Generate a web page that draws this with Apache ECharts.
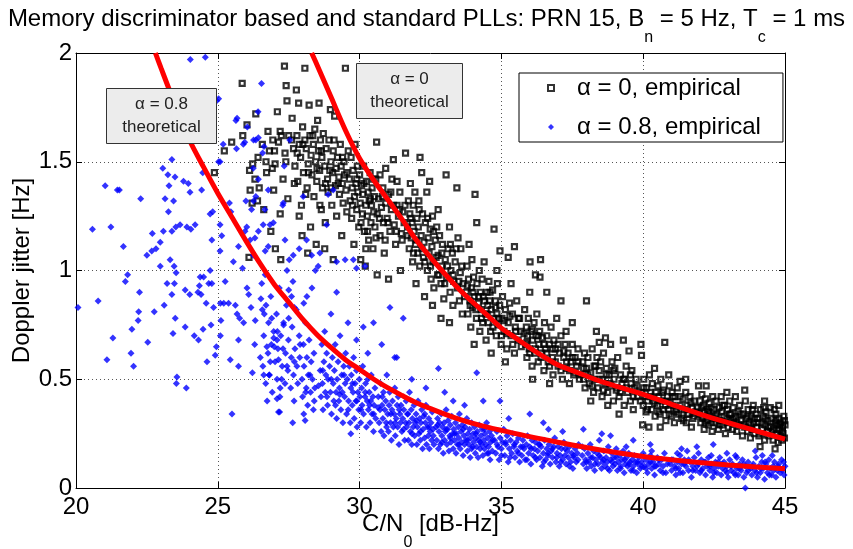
<!DOCTYPE html>
<html><head><meta charset="utf-8">
<script src="https://cdn.jsdelivr.net/npm/echarts@6/dist/echarts.min.js"></script>
<style>html,body{margin:0;padding:0;background:#fff}#c{width:853px;height:549px}</style>
</head><body><div id="c"></div>
<script>
const FONT = '"Liberation Sans", Arial, sans-serif';
const xTicks = [20, 25, 30, 35, 40, 45];
const yTicks = [0, 0.5, 1, 1.5, 2];
const legendNames = ['α = 0, empirical', 'α = 0.8, empirical'];
const boxLabels = [['α = 0.8', 'theoretical'], ['α = 0', 'theoretical']];

// alpha = 0, empirical (black squares)
const alpha0Empirical = [
[24.88,1.45],[25.23,1.55],[25.49,1.59],[25.86,1.86],[25.88,1.62],[26.03,1.67],[26.1,1.06],[26.12,1.46],[26.14,1.37],[26.21,1.31],[26.23,1.49],[26.31,1.42],[26.34,1.72],[26.4,1.32],[26.42,1.52],[26.46,1.38],[26.57,1.58],[26.62,1.28],[26.7,1.5],[26.72,1.45],[26.77,1.64],[26.82,1.55],[26.87,1.18],[26.92,1.47],[26.94,1.6],[26.97,1.37],[27.02,1.49],[27.03,1.1],[27.1,1.73],[27.14,1.59],[27.2,1.26],[27.22,1.05],[27.24,1.62],[27.3,1.42],[27.35,1.94],[27.37,1.54],[27.41,1.85],[27.44,1.78],[27.47,1.33],[27.5,1.62],
[27.62,1.7],[27.67,1.56],[27.72,1.48],[27.77,1.83],[27.79,1.62],[27.82,1.41],[27.85,1.77],[27.87,1.58],[27.87,1.25],[27.92,1.52],[27.95,1.3],[27.97,1.16],[27.99,1.66],[28.02,1.45],[28.07,1.93],[28.07,1.6],[28.12,1.56],[28.15,1.38],[28.17,1.08],[28.19,1.49],[28.22,1.76],[28.25,1.62],[28.27,1.2],[28.29,1.53],[28.32,1.44],[28.37,1.58],[28.39,1.34],[28.42,1.65],[28.45,1.5],[28.47,1.12],[28.49,1.41],[28.52,1.69],[28.55,1.55],[28.57,1.77],[28.59,1.46],[28.62,1.6],[28.65,1.28],[28.67,1.52],[28.69,1.38],[28.72,1.63],[28.77,1.48],[28.77,1.1],[28.79,1.22],[28.82,1.56],[28.87,1.42],[28.89,1.36],[28.92,1.6],[28.97,1.74],[28.99,1.5],[29.02,1.3],[29.05,1.45],[29.07,1.55],[29.07,1.05],[29.12,1.71],[29.15,1.39],[29.17,1.47],[29.19,1.25],[29.22,1.52],[29.27,1.43],[29.29,1.35],[29.32,1.58],[29.35,1.48],[29.37,1.16],[29.39,1.4],[29.42,1.31],[29.45,1.5],[29.47,1.44],[29.5,1.93],[29.52,1.37],[29.55,1.27],
[29.64,1.42],[29.67,1.32],[29.7,1.52],[29.72,1.24],[29.74,1.38],[29.77,1.46],[29.8,1.12],[29.82,1.34],[29.84,1.58],[29.87,1.4],[29.9,1.28],[29.92,1.48],[29.94,1.36],[29.97,1.2],[30.0,1.44],[30.02,1.31],[30.04,1.05],[30.07,1.39],[30.1,1.26],[30.12,1.35],[30.14,1.48],[30.17,1.18],[30.2,1.02],[30.22,1.3],[30.22,1.1],[30.24,1.41],[30.27,1.25],[30.3,1.36],[30.32,1.14],[30.34,1.32],[30.37,1.45],[30.4,1.22],[30.42,1.3],[30.44,1.38],[30.47,1.1],[30.5,1.27],[30.52,1.34],[30.54,1.2],[30.57,1.42],[30.6,1.59],[30.62,1.26],[30.62,0.98],[30.67,1.33],[30.72,1.16],[30.72,1.44],[30.77,1.29],[30.82,1.38],[30.84,1.22],[30.87,1.08],[30.92,1.31],[30.92,1.47],[30.97,1.24],[31.02,1.35],[31.02,0.96],[31.07,1.18],[31.12,1.28],[31.14,1.42],[31.19,1.51],[31.22,1.21],[31.27,1.12],[31.32,1.3],[31.32,1.41],[31.37,1.25],[31.42,1.36],[31.44,1.0],[31.47,1.17],[31.52,1.27],[31.57,1.22],[31.62,1.54],
[31.69,1.2],[31.72,1.32],[31.75,1.1],[31.77,1.26],[31.79,1.4],[31.82,1.15],[31.85,1.22],[31.87,1.04],[31.89,1.3],[31.92,1.18],[31.95,1.36],[31.97,1.12],[31.99,0.94],[32.02,1.24],[32.05,1.08],[32.07,1.2],[32.09,1.32],[32.12,1.02],[32.13,1.52],[32.17,1.16],[32.19,1.45],[32.22,1.26],[32.25,1.06],[32.27,1.13],[32.29,0.88],[32.32,1.22],[32.37,1.36],[32.39,1.0],[32.42,1.15],[32.45,1.08],[32.47,1.41],[32.49,1.19],[32.52,0.96],[32.55,1.11],[32.57,1.25],[32.59,1.04],[32.62,0.92],[32.57,0.84],[32.67,1.14],[32.72,1.2],[32.75,0.98],[32.77,1.07],[32.77,1.28],[32.82,1.16],[32.87,0.94],[32.87,0.78],[32.89,1.02],[32.92,1.12],[32.97,0.87],[33.02,1.05],[33.05,1.44],[33.07,0.97],[33.12,1.1],[33.17,1.2],[33.17,0.76],[33.19,0.9],[33.22,1.0],[33.27,1.08],[33.29,0.84],[33.32,0.95],[33.37,1.04],[33.43,1.38],[33.45,0.92],[33.47,1.15],[33.52,0.86],[33.55,0.99],[33.57,1.1],[33.62,0.8],[33.65,0.94],
[33.76,0.9],[33.79,1.02],[33.82,0.8],[33.84,0.96],[33.86,1.12],[33.89,0.86],[33.92,0.74],[33.94,0.92],[33.96,1.05],[33.99,0.83],[34.02,0.97],[34.04,0.88],[34.07,1.35],[34.12,0.78],[34.14,0.94],[34.13,1.22],[34.19,0.85],[34.22,1.0],[34.24,0.72],[34.26,0.9],[34.29,0.82],[34.32,0.96],[34.34,0.76],[34.36,0.88],[34.39,1.04],[34.44,0.8],[34.46,0.68],[34.49,0.9],[34.52,0.84],[34.54,0.76],[34.56,0.95],[34.59,0.86],[34.62,0.72],[34.64,0.82],[34.69,0.91],[34.74,1.19],[34.74,0.78],[34.79,0.86],[34.82,0.7],[34.84,0.8],[34.86,0.94],[34.89,0.75],[34.94,0.84],[34.95,1.09],[34.99,0.66],[35.02,0.78],[35.04,0.88],[35.09,0.72],[35.14,0.82],[35.19,0.64],[35.24,1.06],[35.24,0.76],[35.29,0.85],[35.34,0.7],[35.39,0.8],[35.46,1.11],[35.46,0.62],[35.49,0.74],[35.54,0.86],[35.59,0.68],[35.64,0.78],[35.69,0.72],[34.04,0.66],[34.64,0.62],[35.14,0.58],[34.84,1.0],[35.34,0.94],
[35.82,0.82],[35.85,0.66],[35.88,0.74],[35.9,0.6],[35.92,0.7],[35.95,0.78],[35.98,0.64],[36.0,0.9],[36.01,1.04],[36.05,0.72],[36.08,0.56],[36.1,0.68],[36.15,0.76],[36.18,0.62],[36.2,0.98],[36.22,0.7],[36.25,0.8],[36.3,0.58],[36.32,0.66],[36.35,0.72],[36.36,0.97],[36.38,1.05],[36.42,0.62],[36.45,0.69],[36.5,0.54],[36.52,0.76],[36.55,0.64],[36.6,0.7],[36.6,0.9],[36.65,0.58],[36.7,0.66],[36.75,0.74],[36.8,0.6],[36.82,0.52],[36.85,0.68],[36.9,0.64],[36.95,0.78],[37.0,0.56],[37.05,0.62],[37.1,0.7],[37.15,0.5],[37.2,0.6],[37.25,0.66],[37.28,0.72],[37.3,0.55],[37.35,0.62],[37.4,0.48],[37.45,0.58],[37.5,0.66],[37.55,0.52],[37.6,0.6],[37.65,0.56],[37.7,0.64],[37.75,0.5],[36.1,0.5],[36.7,0.48],[37.1,0.86],[37.5,0.76],
[37.87,0.58],[37.9,0.5],[37.93,0.62],[37.95,0.46],[38.0,0.55],[38.0,0.86],[38.05,0.6],[38.1,0.48],[38.15,0.53],[38.2,0.64],[38.25,0.44],[38.27,0.56],[38.3,0.5],[38.35,0.72],[38.37,0.6],[38.4,0.46],[38.45,0.54],[38.5,0.58],[38.55,0.42],[38.57,0.5],[38.6,0.62],[38.65,0.48],[38.67,0.69],[38.7,0.55],[38.75,0.44],[38.8,0.52],[38.85,0.66],[38.85,0.47],[38.9,0.58],[38.95,0.4],[38.97,0.5],[39.0,0.55],[39.05,0.45],[39.1,0.6],[39.15,0.42],[39.2,0.52],[39.25,0.48],[39.3,0.68],[39.33,0.38],[39.35,0.5],[39.4,0.56],[39.45,0.44],[39.5,0.63],[39.55,0.4],[39.57,0.48],[39.6,0.54],[39.65,0.36],[39.7,0.46],[39.75,0.5],[39.8,0.42],[38.15,0.4],[38.75,0.38],[39.15,0.34],[38.45,0.67],
[39.92,0.66],[39.94,0.61],[39.95,0.44],[39.98,0.29],[40.0,0.38],[40.02,0.5],[40.05,0.42],[40.1,0.35],[40.12,0.46],[40.15,0.4],[40.2,0.28],[40.22,0.52],[40.25,0.44],[40.3,0.36],[40.32,0.48],[40.35,0.4],[40.4,0.55],[40.42,0.33],[40.45,0.44],[40.5,0.38],[40.52,0.47],[40.55,0.42],[40.6,0.34],[40.62,0.5],[40.65,0.4],[40.7,0.36],[40.72,0.45],[40.76,0.67],[40.78,0.38],[40.8,0.31],[40.85,0.42],[40.9,0.36],[40.92,0.47],[40.95,0.39],[41.0,0.33],[41.02,0.44],[41.05,0.38],[41.1,0.3],[41.12,0.42],[41.15,0.36],[41.2,0.46],[41.25,0.34],[41.3,0.49],[41.3,0.38],[41.35,0.32],[41.4,0.41],[41.45,0.36],[41.5,0.44],[41.52,0.3],[41.55,0.38],[41.6,0.34],[41.65,0.42],[41.7,0.28],[41.72,0.37],[41.75,0.32],[41.8,0.4],[41.85,0.35],[40.9,0.52],[41.5,0.5],[40.6,0.28],
[41.95,0.47],[41.97,0.34],[42.0,0.4],[42.03,0.3],[42.05,0.37],[42.07,0.43],[42.1,0.32],[42.13,0.38],[42.15,0.27],[42.17,0.35],[42.2,0.41],[42.22,0.47],[42.25,0.31],[42.27,0.36],[42.3,0.29],[42.33,0.39],[42.35,0.33],[42.4,0.37],[42.43,0.26],[42.45,0.42],[42.47,0.32],[42.5,0.36],[42.55,0.3],[42.57,0.4],[42.6,0.34],[42.65,0.27],[42.67,0.37],[42.7,0.31],[42.75,0.42],[42.77,0.35],[42.8,0.29],[42.85,0.33],[42.87,0.38],[42.9,0.25],[42.95,0.32],[42.97,0.36],[43.0,0.28],[43.05,0.4],[43.07,0.31],[43.1,0.34],[43.15,0.27],[43.17,0.37],[43.2,0.3],[43.25,0.42],[43.27,0.33],[43.3,0.26],[43.35,0.35],[43.37,0.29],[43.4,0.38],[43.45,0.31],[43.5,0.24],[43.53,0.34],[43.58,0.28],[43.6,0.4],[43.63,0.32],[43.68,0.26],[43.7,0.36],[43.73,0.3],[43.78,0.23],[43.8,0.33],[43.83,0.27],[43.88,0.38],[43.9,0.3],[43.93,0.25],[43.98,0.34],[44.0,0.28],[44.03,0.32],[44.08,0.24],[44.12,0.19],[44.13,0.36],[44.18,0.3],[44.2,0.27],[44.23,0.33],[44.28,0.22],[44.3,0.29],[44.33,0.35],[44.38,0.26],[44.4,0.31],[44.43,0.24],[44.48,0.37],[44.5,0.28],[44.53,0.32],[44.58,0.22],[44.6,0.27],[44.65,0.18],[44.66,0.3],[44.68,0.34],[44.7,0.25],[44.73,0.29],[44.76,0.21],[44.78,0.32],[44.8,0.27],[44.83,0.24],[44.86,0.3],[44.88,0.22],[44.9,0.28],[44.93,0.25],[44.96,0.33],[44.98,0.23],[45.0,0.29],[42.95,0.44],[43.58,0.45],[44.28,0.4],[44.78,0.38]
];
// alpha = 0, empirical, densest part of the cloud
const alpha0EmpiricalDense = [
[29.6,1.55],[29.75,1.3],[29.9,1.42],[30.05,1.22],[30.15,1.4],[30.28,1.18],[30.38,1.33],[30.48,1.42],[30.58,1.15],[30.7,1.24],[30.8,1.34],[30.9,1.14],[31.0,1.22],[31.1,1.36],[31.2,1.3],[31.3,1.18],[31.4,1.28],[31.5,1.14],[31.6,1.3],[31.7,1.16],[31.8,1.24],[31.9,1.08],[32.0,1.14],[32.1,1.28],[32.2,1.1],[32.3,1.04],[32.4,1.24],[32.5,1.02],[32.6,1.18],[32.7,1.06],[32.8,0.98],[32.9,1.08],[33.0,0.94],[33.1,1.02],[33.2,1.12],[33.3,0.98],[33.4,1.1],[33.5,0.95],[33.6,1.02],[33.7,0.88],
[33.8,0.93],[33.9,0.84],[34.0,0.9],[34.1,0.82],[34.2,0.88],[34.3,0.78],[34.4,0.86],[34.5,0.8],[34.6,0.9],[34.7,0.74],[34.8,0.83],[34.9,0.78],[35.0,0.7],[35.1,0.77],[35.2,0.71],[35.3,0.79],[35.4,0.66],[35.5,0.72],[35.6,0.78],[35.7,0.65],[35.8,0.71],[35.9,0.67],[36.0,0.62],[36.1,0.73],[36.2,0.64],[36.3,0.7],[36.4,0.6],[36.5,0.66],[36.6,0.62],[36.7,0.56],[36.8,0.64],[36.9,0.58],[37.0,0.66],[37.1,0.54],[37.2,0.63],[37.3,0.58],[37.4,0.54],[37.5,0.6],[37.6,0.53],[37.7,0.58],[37.8,0.52],[37.9,0.55],
[38.05,0.52],[38.2,0.47],[38.32,0.56],[38.45,0.5],[38.6,0.45],[38.7,0.52],[38.82,0.48],[38.95,0.54],[39.08,0.46],[39.2,0.44],[39.3,0.5],[39.42,0.46],[39.55,0.52],[39.65,0.42],[39.78,0.47],[39.9,0.4],[40.02,0.46],[40.15,0.36],[40.28,0.42],[40.4,0.39],[40.55,0.35],[40.68,0.44],[40.8,0.4],[40.92,0.34],[41.05,0.42],[41.18,0.35],[41.3,0.42],[41.42,0.31],[41.55,0.34],[41.68,0.39],[41.8,0.33],[41.92,0.37],[42.05,0.33],[42.18,0.3],[42.3,0.35],[42.42,0.3],[42.55,0.33],[42.68,0.29],[42.8,0.38],[42.92,0.3],[43.05,0.34],[43.18,0.32],[43.3,0.3],[43.42,0.34],[43.55,0.29],[43.68,0.33],[43.8,0.29],[43.92,0.32],[44.05,0.3],[44.18,0.25],[44.3,0.32],[44.42,0.28],[44.55,0.26],[44.68,0.31],[44.8,0.29],[44.9,0.26],[44.98,0.31],[44.62,0.36],[44.25,0.37],[43.85,0.36],
[27.0,1.55],[27.2,1.64],[27.4,1.5],[27.6,1.6],[27.8,1.54],[28.0,1.58],[28.2,1.45],[28.35,1.62],[28.5,1.47],[28.65,1.55],[28.8,1.4],[28.95,1.46],[29.1,1.6],[29.25,1.4],[29.4,1.52],[29.55,1.45],[28.1,1.35],[28.6,1.3],[29.0,1.38],[27.7,1.4]
];

// alpha = 0.8, empirical (blue points)
const alpha08Empirical = [
[20.07,0.83],[20.58,1.19],[20.78,0.86],[21.03,1.39],[21.09,0.59],[21.23,1.2],[21.3,0.69],[21.46,1.37],[21.53,1.37],[21.67,1.11],[21.74,0.95],[21.82,0.98],[21.94,0.62],[21.97,0.73],[22.03,0.56],[22.19,0.77],[22.21,0.81],[22.24,0.9],[22.28,1.33],[22.5,1.07],[22.53,0.67],[22.67,1.09],[22.69,1.17],[22.76,0.81],[22.82,1.1],[22.97,1.13],[22.97,1.02],[23.06,1.47],[23.08,1.18],[23.11,0.84],[23.14,1.33],[23.21,0.94],[23.24,1.44],[23.26,1.27],[23.28,1.39],[23.32,1.05],[23.38,1.51],[23.38,0.89],[23.38,1.18],[23.42,0.71],[23.44,1.32],[23.46,1.02],[23.47,0.94],[23.49,1.43],[23.5,0.78],[23.52,1.2],[23.53,0.99],[23.54,0.48],[23.56,0.51],[23.67,1.21],[23.79,1.41],[23.85,0.74],[23.85,0.91],[23.89,0.46],[23.91,1.2],[23.96,1.4],[24.01,0.89],[24.02,1.36],[24.03,1.97],[24.05,1.19],[24.17,0.7],[24.2,1.21],[24.3,0.9],[24.32,0.68],[24.35,0.93],[24.38,0.97],[24.41,0.89],[24.43,1.37],[24.47,1.45],[24.48,0.73],[24.5,0.97],[24.56,1.98],[24.59,0.85],[24.62,0.58],[24.68,0.94],[24.73,1.26],[24.73,1.0],[24.76,0.75],[24.79,0.94],[24.79,1.14],[24.82,1.27],[24.85,0.83],[24.91,0.61],[24.95,0.65],[24.96,1.78],[25.03,1.79],[25.03,1.5],[25.08,1.5],[25.08,1.21],[25.08,1.09],[25.09,0.7],[25.09,0.85],[25.11,0.77],[25.14,1.16],[25.19,1.58],[25.21,0.85],[25.26,0.95],[25.38,0.85],[25.41,1.31],[25.44,0.59],[25.46,1.27],[25.5,0.34],[25.55,1.04],[25.62,0.84],[25.64,1.69],[25.66,1.56],[25.68,1.7],[25.68,0.8],[25.73,0.56],[25.73,0.68],[25.73,1.11],[25.77,0.78],[25.87,1.01],[25.9,1.58],[25.91,0.76],[25.95,1.59],[25.96,1.18],[25.99,1.32],[26.02,1.2],[26.03,0.92],[26.04,1.66],[26.09,0.89],[26.14,1.14],[26.17,0.83],[26.19,1.28],[26.22,0.53],[26.25,1.47],[26.25,1.07],[26.26,1.32],[26.26,1.6],[26.31,1.15],[26.32,0.77],[26.34,1.34],[26.34,1.6],[26.42,1.73],[26.43,1.18],[26.43,1.61],[26.43,1.42],[26.52,0.87],[26.54,1.86],[26.55,0.94],[26.58,1.54],[26.6,1.21],[26.62,0.52],[26.63,1.57],[26.64,0.8],[26.66,1.28],[26.67,1.09],[26.73,0.65],[26.78,1.37],[26.78,1.11],[26.81,0.52],[26.84,1.21],[26.96,1.22],[26.97,0.69],[26.99,0.65],[27.09,0.68],[27.09,0.41],[27.14,0.59],[27.18,0.35],[27.2,0.46],[27.31,1.31],[27.32,0.75],[27.37,1.14],[27.44,0.56],[27.5,0.91],[27.65,0.95],[27.66,1.07],[27.7,0.83],[28.01,1.34],[28.03,0.85],[28.03,0.34],[28.08,0.31],[28.13,1.14],[28.31,1.07],[28.54,1.02],[28.6,1.08],[28.84,1.21],[28.89,1.35],[29.07,1.37],[29.19,1.04],[29.78,1.05],[29.89,1.01],[30.19,1.02],
[26.57,0.82],[26.59,0.56],[26.62,0.7],[26.67,0.98],[26.69,0.48],[26.77,0.62],[26.79,0.76],[26.82,0.52],[26.87,0.88],[26.89,0.66],[26.92,0.44],[26.97,0.72],[27.02,0.58],[27.07,0.8],[27.09,0.5],[27.12,0.64],[27.17,0.92],[27.19,0.42],[27.22,0.7],[27.27,0.56],[27.29,1.3],[27.32,0.76],[27.37,0.48],[27.39,0.62],[27.42,0.84],[27.47,0.54],[27.49,0.68],[27.52,1.05],[27.57,0.46],[27.59,0.6],[27.62,0.74],[27.67,0.52],[27.69,0.4],[27.72,0.64],[27.77,0.82],[27.79,0.56],[27.82,0.48],[27.87,0.7],[27.89,0.6],[27.97,0.5],[27.99,0.42],[28.02,0.66],[28.04,0.56],[28.09,0.76],[28.12,0.46],[28.14,0.6],[28.17,0.38],[28.19,0.52],[28.22,0.68],[28.27,0.44],[28.29,0.58],[28.32,0.92],[28.34,0.5],[28.37,0.36],[28.39,0.62],[28.42,0.46],[28.44,1.0],[27.87,1.1],[27.44,1.0],[27.14,0.35],[27.64,0.3],[28.14,0.88],[26.74,0.4],[27.34,1.48],[27.54,1.6],
[28.61,0.54],[28.64,0.42],[28.67,0.66],[28.69,0.48],[28.71,0.36],[28.74,0.58],[28.77,0.72],[28.79,0.44],[28.81,0.52],[28.84,0.62],[28.87,0.38],[28.89,0.5],[28.94,0.56],[28.97,0.44],[28.99,0.8],[29.01,0.34],[29.04,0.6],[29.07,0.48],[29.09,0.4],[29.11,0.54],[29.14,0.66],[29.17,0.44],[29.19,0.32],[29.21,0.5],[29.24,0.58],[29.27,0.4],[29.29,0.46],[29.31,0.7],[29.34,0.36],[29.37,0.52],[29.39,0.44],[29.41,0.3],[29.44,0.56],[29.47,0.42],[29.49,0.48],[29.51,0.62],[29.54,0.34],[29.57,0.5],[29.61,0.4],[29.64,0.56],[29.67,0.3],[29.69,0.46],[29.71,0.52],[29.74,0.38],[29.77,0.44],[29.79,0.6],[29.81,0.32],[29.84,0.48],[29.87,0.4],[29.89,0.54],[29.91,0.28],[29.94,0.44],[29.97,0.36],[29.99,0.5],[30.01,0.42],[30.04,0.3],[30.07,0.46],[30.09,0.38],[30.11,0.56],[30.14,0.34],[30.19,0.42],[30.21,0.48],[30.24,0.28],[30.27,0.4],[30.29,0.5],[30.31,0.36],[30.34,0.44],[30.37,0.3],[30.39,0.4],[30.41,0.52],[30.44,0.34],[30.47,0.42],[30.49,0.26],[30.51,0.38],[30.54,0.46],[30.57,0.32],[29.19,0.9],[29.59,0.76],[29.89,0.68],[29.49,1.05],[30.29,0.62],[29.69,0.25],
[30.13,0.74],[30.49,0.76],[30.78,0.66],[31.07,0.83],[31.54,0.78],[31.31,0.6],[32.78,0.55],[34.13,0.53],[34.36,0.4],[34.95,0.4],[36.0,0.34],[36.48,0.3],[37.89,0.27],
[30.66,0.42],[30.69,0.3],[30.72,0.36],[30.74,0.48],[30.76,0.26],[30.79,0.38],[30.82,0.32],[30.84,0.44],[30.86,0.24],[30.89,0.36],[30.92,0.4],[30.94,0.3],[30.96,0.52],[30.99,0.34],[31.02,0.26],[31.04,0.38],[31.06,0.44],[31.09,0.3],[31.12,0.22],[31.14,0.36],[31.16,0.4],[31.19,0.28],[31.22,0.34],[31.24,0.46],[31.26,0.24],[31.29,0.32],[31.32,0.38],[31.34,0.28],[31.36,0.42],[31.39,0.2],[31.42,0.34],[31.44,0.3],[31.46,0.38],[31.49,0.26],[31.52,0.32],[31.56,0.36],[31.59,0.22],[31.62,0.3],[31.64,0.4],[31.66,0.28],[31.69,0.34],[31.72,0.22],[31.74,0.3],[31.76,0.44],[31.79,0.26],[31.82,0.36],[31.84,0.2],[31.86,0.32],[31.89,0.28],[31.92,0.38],[31.94,0.24],[31.96,0.3],[31.99,0.34],[32.02,0.2],[32.04,0.28],[32.06,0.4],[32.09,0.25],[32.12,0.32],[32.14,0.22],[32.16,0.3],[32.19,0.36],[32.22,0.18],[32.24,0.27],[32.26,0.33],[32.29,0.23],[32.32,0.3],[32.34,0.38],[32.36,0.2],[32.39,0.28],[32.42,0.24],[32.44,0.32],[32.46,0.18],[32.49,0.26],[32.52,0.3],[32.54,0.22],[32.56,0.35],[32.59,0.27],[32.62,0.2],[31.24,0.6],[31.84,0.5],[32.34,0.46],
[32.7,0.28],[32.72,0.22],[32.75,0.32],[32.78,0.18],[32.8,0.26],[32.82,0.3],[32.85,0.2],[32.88,0.34],[32.9,0.24],[32.92,0.28],[32.95,0.16],[32.98,0.3],[33.0,0.22],[33.02,0.26],[33.05,0.36],[33.08,0.2],[33.1,0.27],[33.12,0.31],[33.15,0.17],[33.18,0.24],[33.2,0.29],[33.22,0.21],[33.25,0.33],[33.28,0.25],[33.3,0.18],[33.32,0.27],[33.35,0.22],[33.38,0.3],[33.4,0.16],[33.42,0.25],[33.45,0.2],[33.48,0.28],[33.5,0.23],[33.52,0.34],[33.55,0.18],[33.58,0.26],[33.6,0.21],[33.62,0.29],[33.65,0.15],[33.68,0.24],[33.7,0.2],[33.72,0.28],[33.75,0.22],[33.78,0.32],[33.8,0.17],[33.82,0.25],[33.85,0.2],[33.88,0.27],[33.9,0.14],[33.92,0.23],[33.95,0.3],[33.98,0.19],[34.0,0.25],[34.02,0.21],[34.05,0.28],[34.08,0.16],[34.1,0.23],[34.12,0.19],[34.15,0.26],[34.18,0.14],[34.2,0.22],[34.22,0.29],[34.25,0.18],[34.28,0.24],[34.3,0.2],[34.32,0.27],[34.35,0.15],[34.38,0.22],[34.4,0.18],[34.42,0.25],[34.45,0.2],[34.48,0.3],[34.5,0.16],[34.52,0.23],[34.55,0.19],[34.58,0.26],[34.6,0.13],[34.62,0.21],[34.65,0.24],[34.68,0.17],[33.3,0.4],[33.7,0.38],[33.0,0.44],
[34.76,0.22],[34.8,0.16],[34.84,0.26],[34.88,0.19],[34.92,0.13],[34.96,0.23],[35.0,0.18],[35.04,0.21],[35.08,0.27],[35.12,0.15],[35.16,0.2],[35.2,0.24],[35.24,0.12],[35.28,0.18],[35.32,0.22],[35.36,0.16],[35.4,0.25],[35.44,0.19],[35.48,0.14],[35.52,0.21],[35.56,0.17],[35.6,0.23],[35.64,0.12],[35.68,0.19],[35.72,0.15],[35.76,0.22],[35.8,0.18],[35.84,0.13],[35.88,0.2],[35.92,0.24],[35.96,0.16],[36.0,0.19],[36.04,0.11],[36.08,0.22],[36.12,0.15],[36.16,0.18],[36.2,0.21],[36.24,0.13],[36.28,0.17],[36.32,0.2],[36.36,0.14],[36.4,0.19],[36.44,0.1],[36.48,0.16],[36.52,0.22],[36.56,0.13],[36.6,0.18],[36.64,0.15],[36.68,0.2],[36.72,0.11],[36.76,0.17],[36.8,0.14],[36.84,0.19],[36.88,0.23],[36.92,0.12],[36.96,0.16],[37.0,0.19],[37.04,0.1],[37.08,0.15],[37.12,0.18],[37.16,0.13],[37.2,0.21],[37.24,0.15],[37.28,0.11],[37.32,0.17],[37.36,0.14],[37.4,0.19],[37.44,0.12],[37.48,0.16],[37.52,0.09],[37.56,0.14],[37.6,0.18],[37.64,0.12],[37.68,0.16],[37.72,0.2],[36.66,0.27],[35.26,0.32],[37.16,0.26],
[37.85,0.15],[37.89,0.11],[37.93,0.18],[37.97,0.13],[38.01,0.09],[38.05,0.16],[38.09,0.12],[38.13,0.2],[38.17,0.1],[38.21,0.14],[38.25,0.17],[38.29,0.08],[38.33,0.13],[38.37,0.16],[38.41,0.11],[38.45,0.22],[38.49,0.14],[38.53,0.09],[38.57,0.12],[38.61,0.17],[38.65,0.1],[38.69,0.14],[38.73,0.12],[38.77,0.19],[38.81,0.08],[38.85,0.13],[38.89,0.16],[38.93,0.1],[38.97,0.14],[39.01,0.11],[39.05,0.18],[39.09,0.08],[39.13,0.12],[39.17,0.15],[39.21,0.1],[39.25,0.13],[39.29,0.17],[39.33,0.07],[39.37,0.11],[39.41,0.14],[39.45,0.1],[39.49,0.16],[39.53,0.12],[39.57,0.08],[39.61,0.13],[39.65,0.1],[39.69,0.15],[39.73,0.12],[39.77,0.07],[39.81,0.11],[39.85,0.14],[39.9,0.09],[39.95,0.12],[40.0,0.16],[40.05,0.1],[40.1,0.13],[40.15,0.07],[40.2,0.11],[40.25,0.15],[40.3,0.09],[40.35,0.12],[40.4,0.06],[40.45,0.1],[40.5,0.14],[40.55,0.11],[40.6,0.08],[40.65,0.13],[40.7,0.1],[40.75,0.16],[40.8,0.07],[38.85,0.24],[39.65,0.22],[40.25,0.2],[38.54,0.25],
[40.95,0.11],[41.0,0.08],[41.05,0.13],[41.1,0.1],[41.15,0.06],[41.2,0.12],[41.25,0.09],[41.3,0.15],[41.35,0.11],[41.4,0.07],[41.45,0.13],[41.5,0.1],[41.55,0.17],[41.6,0.08],[41.65,0.12],[41.7,0.05],[41.75,0.1],[41.8,0.14],[41.85,0.08],[41.89,0.19],[41.95,0.11],[42.0,0.07],[42.05,0.13],[42.1,0.09],[42.15,0.12],[42.2,0.06],[42.25,0.1],[42.3,0.14],[42.35,0.08],[42.4,0.11],[42.45,0.05],[42.47,0.2],[42.5,0.09],[42.55,0.12],[42.6,0.07],[42.65,0.1],[42.7,0.14],[42.75,0.06],[42.8,0.09],[42.85,0.12],[42.9,0.08],[42.95,0.1],[43.0,0.05],[43.05,0.13],[43.1,0.08],[43.15,0.11],[43.2,0.07],[43.25,0.15],[43.3,0.09],[43.35,0.06],[43.4,0.11],[43.45,0.08],[43.5,0.13],[43.55,0.05],[43.6,0.0],[43.6,0.1],[43.65,0.07],[43.7,0.12],[43.78,0.09],[43.83,0.06],[43.88,0.11],[43.93,0.08],[43.98,0.14],[44.03,0.05],[44.08,0.1],[44.13,0.07],[44.18,0.12],[44.23,0.09],[44.28,0.04],[44.33,0.11],[44.38,0.07],[44.43,0.13],[44.48,0.09],[44.53,0.06],[44.58,0.1],[44.63,0.12],[44.68,0.05],[44.73,0.08],[44.78,0.11],[44.83,0.07],[44.88,0.13],[44.93,0.09],[44.97,0.06],[45.0,0.1],[41.35,0.18],[41.95,0.16],[42.95,0.16],[43.95,0.17],[44.55,0.15]
];
// alpha = 0.8, empirical, densest part of the band
const alpha08EmpiricalDense = [
[28.1,0.44],[28.25,0.52],[28.4,0.4],[28.55,0.47],[28.7,0.54],[28.85,0.42],[29.0,0.5],[29.15,0.38],[29.3,0.43],[29.45,0.52],[29.6,0.36],[29.75,0.48],[29.9,0.4],[30.05,0.36],[30.2,0.44],[30.35,0.38],[30.5,0.34],[30.65,0.37],[30.8,0.42],[30.95,0.28],
[31.1,0.34],[31.25,0.3],[31.4,0.36],[31.55,0.27],[31.7,0.34],[31.85,0.25],[32.0,0.31],[32.15,0.26],[32.3,0.34],[32.45,0.28],[32.6,0.24],[32.75,0.29],[32.9,0.21],[33.05,0.27],[33.2,0.23],[33.35,0.25],[33.5,0.2],[33.65,0.27],[33.8,0.22],[33.95,0.18],[34.1,0.25],[34.25,0.21],[34.4,0.27],[34.55,0.16],[34.7,0.22],[34.85,0.2],
[35.0,0.15],[35.15,0.21],[35.3,0.14],[35.45,0.2],[35.6,0.16],[35.75,0.19],[35.9,0.13],[36.05,0.18],[36.2,0.14],[36.35,0.2],[36.5,0.12],[36.65,0.16],[36.8,0.18],[36.95,0.14],[37.1,0.12],[37.25,0.18],[37.4,0.1],[37.55,0.15],[37.7,0.13],[37.85,0.19],[38.0,0.12],[38.15,0.14],[38.3,0.11],[38.45,0.15],[38.6,0.13],[38.75,0.09],[38.9,0.12],[39.05,0.14],[39.2,0.09],[39.35,0.13],[39.5,0.11],[39.65,0.08],[39.8,0.12],[39.95,0.1],
[40.1,0.09],[40.25,0.12],[40.4,0.1],[40.55,0.13],[40.7,0.07],[40.85,0.11],[41.0,0.13],[41.15,0.09],[41.3,0.07],[41.45,0.11],[41.6,0.13],[41.75,0.08],[41.9,0.1],[42.05,0.08],[42.2,0.12],[42.35,0.1],[42.5,0.07],[42.65,0.12],[42.8,0.11],[42.95,0.07],[43.1,0.1],[43.25,0.06],[43.4,0.09],[43.55,0.11],[43.7,0.08],[43.85,0.1],[44.0,0.07],[44.15,0.09],[44.3,0.12],[44.45,0.06],[44.6,0.08],[44.75,0.1],[44.9,0.08],[44.95,0.12],[44.2,0.15],[43.3,0.14],[42.4,0.15],[41.2,0.16],[40.3,0.17],[39.4,0.19],
[26.3,0.66],[26.5,0.6],[26.7,0.84],[26.9,0.78],[27.1,0.72],[27.3,0.64],[27.5,0.78],[27.7,0.58],[27.9,0.66],[27.25,0.5],[26.85,0.58],[27.6,0.88]
];

// theoretical curves
const alpha0Theory = [[28.31,2.0],[28.5,1.945],[29.0,1.795],[29.5,1.645],[30.0,1.515],[30.5,1.415],[31.0,1.325],[31.5,1.235],[32.0,1.14],[32.5,1.06],[33.0,0.985],[33.5,0.915],[34.0,0.853],[34.5,0.795],[35.0,0.735],[35.5,0.69],[36.0,0.645],[36.5,0.603],[37.0,0.565],[37.5,0.54],[38.0,0.515],[38.5,0.49],[39.0,0.47],[39.5,0.45],[40.0,0.43],[41.0,0.385],[42.0,0.34],[43.0,0.3],[44.0,0.262],[45.0,0.225]];
const alpha08Theory = [[22.8,2.0],[23.0,1.93],[23.5,1.76],[24.0,1.6],[24.5,1.475],[25.0,1.355],[25.5,1.245],[26.0,1.135],[26.5,1.03],[27.0,0.935],[27.5,0.855],[28.0,0.775],[28.5,0.705],[29.0,0.645],[29.5,0.59],[30.0,0.545],[30.5,0.5],[31.0,0.46],[31.5,0.425],[32.0,0.392],[32.5,0.365],[33.0,0.34],[33.5,0.317],[34.0,0.297],[34.5,0.28],[35.0,0.265],[36.0,0.236],[37.0,0.21],[38.0,0.186],[39.0,0.164],[40.0,0.145],[41.0,0.13],[42.0,0.117],[43.0,0.106],[44.0,0.097],[45.0,0.088]];

const chart = echarts.init(document.getElementById('c'), null, {renderer: 'canvas'});
const mainTok = {fontSize: 24, lineHeight: 26, verticalAlign: 'top', fontFamily: FONT, color: '#000'};
const subTok = {fontSize: 16, lineHeight: 18, padding: [23, 0, 0, 0], verticalAlign: 'top', fontFamily: FONT, color: '#000'};
const axisCommon = {
  type: 'value',
  nameMoveOverlap: false,
  axisLine: {show: true, onZero: false, lineStyle: {color: '#000', width: 1}},
  axisTick: {show: true, inside: true, length: 6, lineStyle: {color: '#000'}},
};
function box(left, top, w, h, lines) {
  return {
    type: 'group', left: left, top: top, z: 100,
    children: [
      {type: 'rect', z: 100, shape: {x: 0.5, y: 0.5, width: w, height: h}, style: {fill: '#ececec', stroke: '#333', lineWidth: 1}},
      {type: 'text', z: 101, style: {text: lines.join('\n'), x: w / 2 + 0.5, y: h / 2, align: 'center', verticalAlign: 'middle', fontSize: 17, fontFamily: FONT, fill: '#222', lineHeight: 23}}
    ]
  };
}
chart.setOption({
  animation: false,
  backgroundColor: '#fff',
  title: {
    left: 'center', top: 7, padding: 0,
    text: '{m|Memory discriminator based and standard PLLs: PRN 15, B}{s|n}{m| = 5 Hz, T}{s|c}{m| = 1 ms}',
    textStyle: {fontSize: 24, fontFamily: FONT, fontWeight: 'normal', rich: {m: mainTok, s: subTok}}
  },
  grid: {left: 76, right: 68, top: 53, bottom: 61, containLabel: false, outerBoundsMode: 'none'},
  legend: {
    data: legendNames, orient: 'vertical', left: 519, top: 73,
    padding: [2, 22, 2, 28], itemGap: 13, itemWidth: 6, itemHeight: 6,
    backgroundColor: '#fff', borderColor: '#000', borderWidth: 1, borderRadius: 0,
    textStyle: {fontSize: 24, fontFamily: FONT, color: '#000', lineHeight: 26, padding: [0, 0, 0, 18]}
  },
  xAxis: [
    Object.assign({}, axisCommon, {
      position: 'bottom', min: xTicks[0], max: xTicks[xTicks.length - 1], interval: 5,
      name: '{m|C/N}{s|0}{m| [dB-Hz]}', nameLocation: 'middle', nameGap: 24,
      nameTextStyle: {rich: {m: mainTok, s: subTok}},
      axisLabel: {fontSize: 24, fontFamily: FONT, color: '#000', margin: 7, lineHeight: 24},
      splitLine: {show: true, lineStyle: {type: [1, 3], color: '#555', width: 1}}
    }),
    Object.assign({}, axisCommon, {
      position: 'top', min: xTicks[0], max: xTicks[xTicks.length - 1], interval: 5,
      axisLabel: {show: false}, splitLine: {show: false}
    })
  ],
  yAxis: [
    Object.assign({}, axisCommon, {
      position: 'left', min: yTicks[0], max: yTicks[yTicks.length - 1], interval: 0.5,
      name: 'Doppler jitter [Hz]', nameLocation: 'middle', nameGap: 42,
      nameTextStyle: {fontSize: 24, fontFamily: FONT, color: '#000'},
      axisLabel: {fontSize: 24, fontFamily: FONT, color: '#000', margin: 4},
      splitLine: {show: true, lineStyle: {type: [1, 3], color: '#555', width: 1}}
    }),
    Object.assign({}, axisCommon, {
      position: 'right', min: yTicks[0], max: yTicks[yTicks.length - 1], interval: 0.5,
      axisLabel: {show: false}, splitLine: {show: false}
    })
  ],
  series: [
    {name: legendNames[0], type: 'scatter', data: alpha0Empirical.concat(alpha0EmpiricalDense), symbol: 'rect', symbolSize: 5,
     itemStyle: {color: 'rgba(0,0,0,0)', borderColor: '#000', borderWidth: 2.2}, z: 2, silent: true},
    {name: legendNames[1], type: 'scatter', data: alpha08Empirical.concat(alpha08EmpiricalDense), symbol: 'diamond', symbolSize: 7,
     itemStyle: {color: '#0000ff'}, z: 3, silent: true},
    {name: 'α = 0 theoretical', type: 'line', data: alpha0Theory, symbol: 'none', smooth: 0.3,
     lineStyle: {color: '#ff0000', width: 5}, z: 4, silent: true},
    {name: 'α = 0.8 theoretical', type: 'line', data: alpha08Theory, symbol: 'none', smooth: 0.3,
     lineStyle: {color: '#ff0000', width: 5}, z: 4, silent: true}
  ],
  graphic: [box(106, 88, 110, 55, boxLabels[0]), box(356, 63, 106, 55, boxLabels[1])]
});
</script>
</body></html>
